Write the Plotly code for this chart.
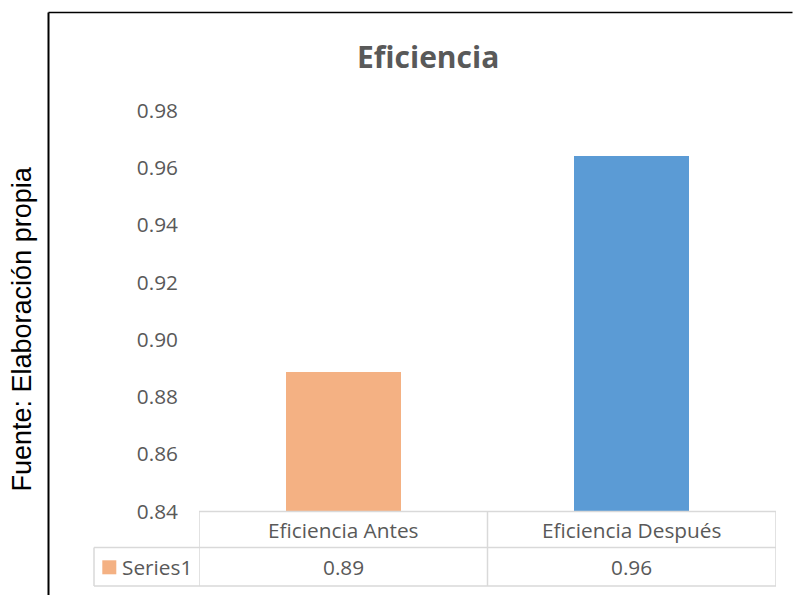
import plotly.graph_objects as go

# Chart data
categories = ["Eficiencia Antes", "Eficiencia Después"]
values = [0.8888, 0.9643]
bar_colors = ["#F4B183", "#5B9BD5"]
series_name = "Series1"
y_ticks = [0.84, 0.86, 0.88, 0.90, 0.92, 0.94, 0.96, 0.98]

W, H = 793, 595
TEXT = "#595959"
GRID = "#D9D9D9"
FONT = "Open Sans"
LABEL_SIZE = 20.8


def px_x(p):
    return p / W


def px_y(p):
    return 1 - p / H


# plot area in pixels
left, right, top, bottom = 199, 776, 110.5, 511.5
row1_bottom, row2_bottom = 547.5, 586
legend_left = 94

fig = go.Figure()
fig.add_trace(go.Bar(
    x=list(range(len(categories))),
    y=values,
    width=0.4,
    marker=dict(color=bar_colors, line=dict(width=0)),
    name=series_name,
    showlegend=False,
))

fig.update_layout(
    template="none",
    width=W, height=H,
    margin=dict(l=0, r=0, t=0, b=0, pad=0, autoexpand=False),
    paper_bgcolor="white", plot_bgcolor="white",
    font=dict(family=FONT, color=TEXT, size=LABEL_SIZE),
    xaxis=dict(
        domain=[px_x(left), px_x(right)],
        range=[-0.5, len(categories) - 0.5],
        showticklabels=False, showgrid=False, zeroline=False, showline=False,
        ticks="", automargin=False, fixedrange=True,
    ),
    yaxis=dict(
        domain=[px_y(bottom), px_y(top)],
        range=[y_ticks[0], y_ticks[-1]],
        tickvals=y_ticks,
        ticktext=[f"{v:.2f}" for v in y_ticks],
        tickfont=dict(family=FONT, color=TEXT, size=LABEL_SIZE),
        ticklabelstandoff=20,
        showgrid=False, zeroline=False, showline=False, ticks="",
        automargin=False, fixedrange=True,
    ),
    bargap=0,
)

shapes = []


def line(x0, y0, x1, y1, xref="paper", color=GRID, width=1.5):
    shapes.append(dict(type="line", xref=xref, yref="paper",
                       x0=x0, x1=x1, y0=y0, y1=y1,
                       line=dict(color=color, width=width), layer="above"))


# data table grid
n = len(categories)
line(-0.5, px_y(bottom), n - 0.5, px_y(bottom), xref="x")
line(px_x(legend_left), px_y(row1_bottom), px_x(right), px_y(row1_bottom))
line(px_x(legend_left), px_y(row2_bottom), px_x(right), px_y(row2_bottom))
line(px_x(legend_left), px_y(row1_bottom), px_x(legend_left), px_y(row2_bottom))
for i in range(n + 1):
    xb = i - 0.5
    line(xb, px_y(bottom), xb, px_y(row2_bottom), xref="x")

# outer frame (top and left edges)
line(px_x(48.5), px_y(12.5), px_x(792.5), px_y(12.5), color="black", width=1.5)
line(px_x(48.5), px_y(12.5), px_x(48.5), 0, color="black", width=2)

# legend key in the table
shapes.append(dict(type="rect", xref="paper", yref="paper",
                   x0=px_x(102.3), x1=px_x(116.3), y0=px_y(574.3), y1=px_y(560.3),
                   fillcolor=bar_colors[0], line=dict(width=0), layer="above"))

fig.update_layout(shapes=shapes)

annotations = [
    dict(text="<b>Eficiencia</b>", xref="paper", yref="paper",
         x=px_x(427.5), y=px_y(57), xanchor="center", yanchor="middle",
         showarrow=False, font=dict(family=FONT, size=30, color=TEXT)),
    dict(text="Fuente: Elaboración propia", xref="paper", yref="paper",
         x=px_x(21.5), y=px_y(329), xanchor="center", yanchor="middle",
         textangle=-90, showarrow=False,
         font=dict(family="Liberation Sans, Arial", size=27, color="black")),
    dict(text=series_name, xref="paper", yref="paper",
         x=px_x(119.5), y=px_y(566.5), xanchor="left", yanchor="middle",
         showarrow=False, font=dict(family=FONT, size=LABEL_SIZE, color=TEXT)),
]
for i, (cat, val) in enumerate(zip(categories, values)):
    annotations.append(dict(text=cat, xref="x", yref="paper",
                            x=i, y=px_y(529.5), xanchor="center", yanchor="middle",
                            showarrow=False, font=dict(family=FONT, size=LABEL_SIZE, color=TEXT)))
    annotations.append(dict(text=f"{val:.2f}", xref="x", yref="paper",
                            x=i, y=px_y(566.5), xanchor="center", yanchor="middle",
                            showarrow=False, font=dict(family=FONT, size=LABEL_SIZE, color=TEXT)))
fig.update_layout(annotations=annotations)

fig.write_html("out.html")
